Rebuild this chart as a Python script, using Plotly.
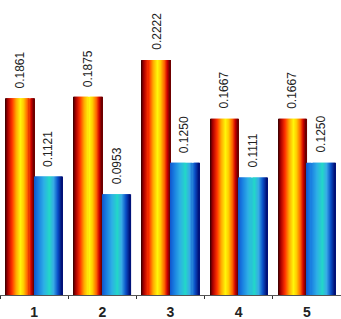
import plotly.graph_objects as go

categories = ["1", "2", "3", "4", "5"]
series_a = [0.1861, 0.1875, 0.2222, 0.1667, 0.1667]
series_b = [0.1121, 0.0953, 0.1250, 0.1111, 0.1250]
labels_a = ["0.1861", "0.1875", "0.2222", "0.1667", "0.1667"]
labels_b = ["0.1121", "0.0953", "0.1250", "0.1111", "0.1250"]

red_stops = [(0.0, (50, 0, 0)), (0.1, (170, 0, 0)), (0.25, (255, 50, 0)),
             (0.4, (255, 170, 0)), (0.55, (255, 245, 10)), (0.66, (255, 205, 0)),
             (0.8, (255, 100, 0)), (0.9, (205, 0, 0)), (1.0, (90, 0, 0))]
blue_stops = [(0.0, (15, 85, 205)), (0.15, (25, 125, 225)), (0.35, (45, 175, 230)),
              (0.55, (35, 215, 200)), (0.7, (55, 170, 230)), (0.85, (10, 80, 200)),
              (1.0, (0, 10, 110))]


def interp(stops, t):
    for (p0, c0), (p1, c1) in zip(stops[:-1], stops[1:]):
        if p0 <= t <= p1:
            f = (t - p0) / (p1 - p0) if p1 > p0 else 0
            c = [round(a + (b - a) * f) for a, b in zip(c0, c1)]
            return f"rgb({c[0]},{c[1]},{c[2]})"
    c = stops[-1][1]
    return f"rgb({c[0]},{c[1]},{c[2]})"


W = 0.42
N = 28
fig = go.Figure()
for vals, stops, base in [(series_a, red_stops, -W), (series_b, blue_stops, 0.0)]:
    for i in range(N):
        t = (i + 0.5) / N
        fig.add_trace(go.Bar(
            x=categories, y=vals,
            width=W / N * 1.15,
            offset=base + i * W / N,
            marker=dict(color=interp(stops, t), line=dict(width=0)),
            showlegend=False, hoverinfo="skip",
        ))

annotations = []
for idx, (va, vb, la, lb) in enumerate(zip(series_a, series_b, labels_a, labels_b)):
    for v, lab, off in [(va, la, -W / 2), (vb, lb, W / 2)]:
        annotations.append(dict(
            x=idx + off, y=v, xref="x", yref="y", text=lab, showarrow=False,
            textangle=-90, yanchor="bottom", xanchor="center", yshift=8,
            font=dict(family="Liberation Sans, Arial", size=12, color="#222"),
        ))

fig.update_layout(
    barmode="overlay",
    width=341, height=319,
    margin=dict(l=0, r=0, t=0, b=24),
    paper_bgcolor="white", plot_bgcolor="white",
    annotations=annotations,
    xaxis=dict(type="category", range=[-0.5, 4.5], showline=True, linecolor="#555",
               linewidth=1, ticks="outside", tickson="boundaries", ticklen=3,
               tickcolor="#333", showgrid=False, zeroline=False,
               ticklabelstandoff=4,
               tickfont=dict(family="Liberation Sans, Arial", size=14, color="#222",
                             weight="bold")),
    yaxis=dict(range=[0, 0.279], visible=False, showgrid=False),
)

fig.write_html("out.html", config={"displayModeBar": False},
               post_script="document.body.style.margin='0px';")
